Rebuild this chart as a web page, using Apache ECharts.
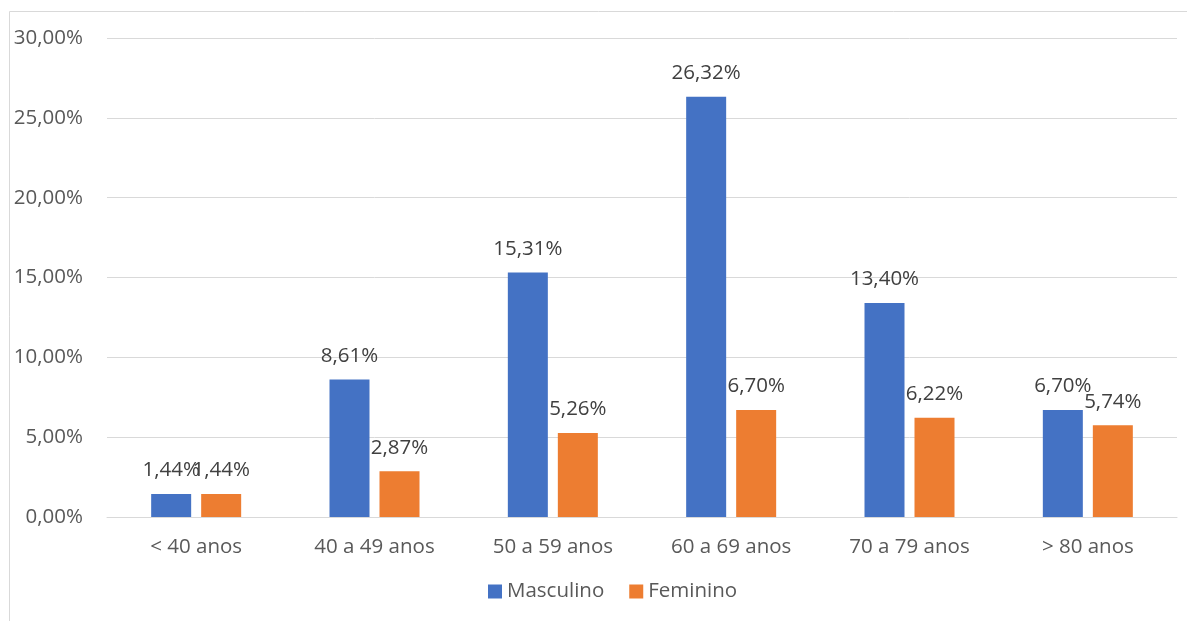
<!DOCTYPE html>
<html><head><meta charset="utf-8">
<script src="https://cdn.jsdelivr.net/npm/echarts@6/dist/echarts.min.js"></script>
<style>html,body{margin:0;padding:0;background:#fff}#c{width:1187px;height:621px}</style>
</head><body><div id="c"></div>
<script>
const categories = ['< 40 anos','40 a 49 anos','50 a 59 anos','60 a 69 anos','70 a 79 anos','> 80 anos'];
const masculino = [1.44, 8.61, 15.31, 26.32, 13.40, 6.70];
const feminino = [1.44, 2.87, 5.26, 6.70, 6.22, 5.74];
const seriesNames = ['Masculino','Feminino'];
const FONT = '"Open Sans", sans-serif';
const FS = 20.5;
const fmt = v => v.toFixed(2).replace('.', ',') + '%';
const chart = echarts.init(document.getElementById('c'));
chart.setOption({
  animation: false,
  graphic: [{type:'rect', shape:{x:9.5,y:11.5,width:1300,height:700}, style:{fill:'none', stroke:'#d9d9d9', lineWidth:1}, silent:true}],
  grid: {left:107, right:10, top:38, bottom:104, containLabel:false},
  legend: {
    data: seriesNames, bottom: 14, left: 483, itemWidth: 14, itemHeight: 14, itemGap: 25,
    icon: 'rect', textStyle:{fontFamily:FONT, fontSize:FS, color:'#595959'}
  },
  xAxis: {
    type:'category', data: categories,
    axisLine:{lineStyle:{color:'#d9d9d9'}}, axisTick:{show:false},
    axisLabel:{fontFamily:FONT, fontSize:FS, color:'#595959', margin:20}
  },
  yAxis: {
    type:'value', min:0, max:30, interval:5,
    axisLine:{show:false}, axisTick:{show:false},
    splitLine:{lineStyle:{color:'#d9d9d9', width:1}},
    axisLabel:{fontFamily:FONT, fontSize:FS, color:'#595959', margin:24, formatter: v => v.toFixed(2).replace('.', ',') + '%'}
  },
  series: [
    {name: seriesNames[0], type:'bar', data: masculino, barWidth:40, barGap:'25%', itemStyle:{color:'#4472C4'},
     label:{show:true, position:'top', distance:13, fontFamily:FONT, fontSize:FS, color:'#404040', formatter: p => fmt(p.value)}},
    {name: seriesNames[1], type:'bar', data: feminino, barWidth:40, barGap:'25%', itemStyle:{color:'#ED7D31'},
     label:{show:true, position:'top', distance:13, fontFamily:FONT, fontSize:FS, color:'#404040', formatter: p => fmt(p.value)}}
  ]
});
</script></body></html>
